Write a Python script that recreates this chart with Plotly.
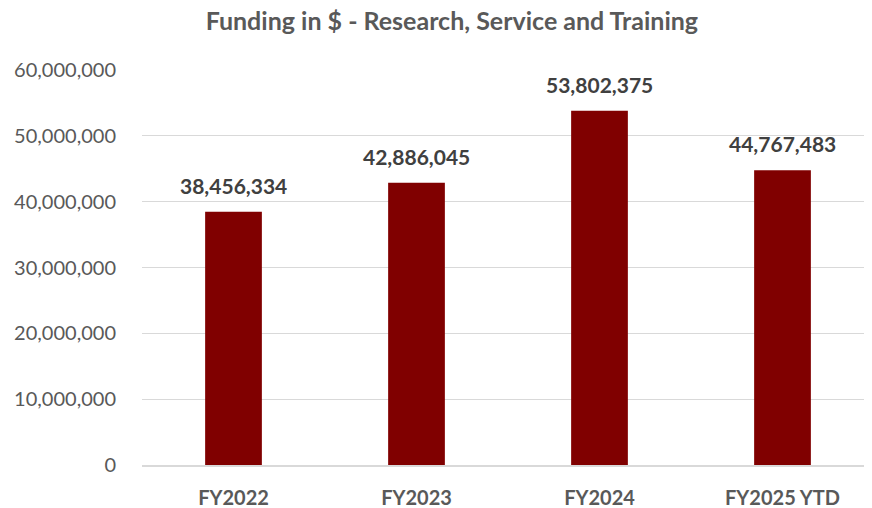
import plotly.graph_objects as go

categories = ["FY2022", "FY2023", "FY2024", "FY2025 YTD"]
funding = [38456334, 42886045, 53802375, 44767483]
tick_vals = [0, 10000000, 20000000, 30000000, 40000000, 50000000, 60000000]
tick_text = ["0", "10,000,000", "20,000,000", "30,000,000", "40,000,000", "50,000,000", "60,000,000"]
title_text = "Funding in $ - Research, Service and Training"

FONT = "Lato"
fig = go.Figure()
fig.add_trace(go.Bar(
    x=categories, y=funding,
    marker=dict(color="#800000", line=dict(width=0)),
    width=0.31,
    hoverinfo="skip",
))

for c, v in zip(categories, funding):
    fig.add_annotation(
        x=c, y=v, text=f"<b>{v:,}</b>", showarrow=False,
        yanchor="bottom", yshift=12,
        font=dict(family=FONT, size=21, color="#404040"),
    )

fig.update_layout(
    width=872, height=508,
    margin=dict(l=134, r=6, t=62, b=51),
    paper_bgcolor="white", plot_bgcolor="white",
    showlegend=False,
    title=dict(text=f"<b>{title_text}</b>", x=0.509, xanchor="center",
               y=1 - 13 / 508, yanchor="middle", yref="container",
               font=dict(family=FONT, size=25, color="#595959")),
    xaxis=dict(
        showgrid=False, showline=True, linecolor="#D9D9D9", linewidth=1.5,
        ticks="", tickfont=dict(family=FONT, size=20, color="#595959"),
        ticklabelstandoff=14,
        tickvals=categories,
        ticktext=[f"<b>{c}</b>" for c in categories],
    ),
    yaxis=dict(
        range=[0, 60000000], tickvals=tick_vals, ticktext=tick_text,
        showgrid=True, gridcolor="#D9D9D9", gridwidth=1,
        zeroline=False, showline=False, ticks="",
        tickfont=dict(family=FONT, size=20, color="#595959"),
        ticklabelstandoff=25,
    ),
)

fig.write_html("out.html")
